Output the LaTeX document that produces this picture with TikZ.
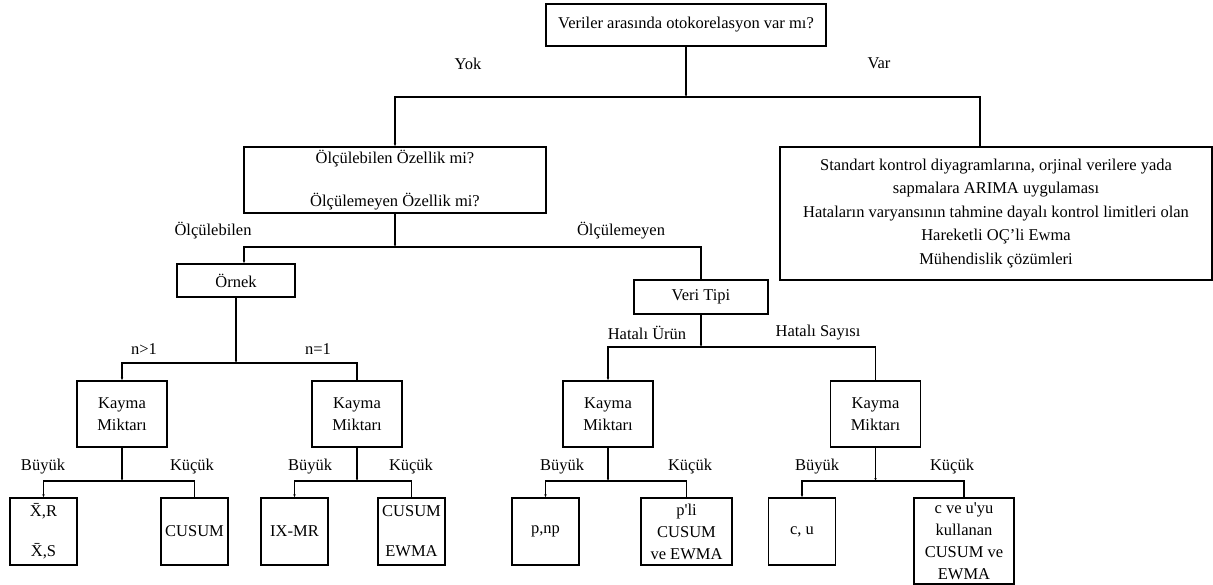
\documentclass[tikz,border=0pt]{standalone}
\usepackage{fontspec}
\setmainfont{Liberation Serif}
\usetikzlibrary{arrows.meta}

\tikzset{
  box/.style={draw, line width=1.1pt, align=center, inner sep=0pt,
    font=\fontsize{16.5}{22}\selectfont},
  leaf/.style={box, minimum width=67pt, minimum height=67pt},
  kayma/.style={box, minimum width=90pt, minimum height=66pt},
  lbl/.style={font=\fontsize{16.5}{22}\selectfont},
  link/.style={line width=1.1pt},
  tip/.style={link, -{Latex[length=3pt,width=2.6pt]}},
}

\begin{document}
\begin{tikzpicture}[x=1pt, y=-1pt]
\useasboundingbox (0,0) rectangle (1213,585);

% Top question
\node[box, minimum width=280pt, minimum height=42pt] at (686,25) (q) {Veriler arasında otokorelasyon var mı?};
\node[lbl] at (468,64) (yok) {Yok};
\node[lbl] at (879,63) (varl) {Var};
\coordinate (j0) at (686,97);

% Second level
\node[box, minimum width=302pt, minimum height=66pt] at (395,180) (olc) {Ölçülebilen Özellik mi?\\[21pt]Ölçülemeyen Özellik mi?};
\node[box, minimum width=432pt, minimum height=133pt, font=\fontsize{16.5}{23.5}\selectfont] at (996,213.5) (var) {Standart kontrol diyagramlarına, orjinal verilere yada\\sapmalara ARIMA uygulaması\\Hataların varyansının tahmine dayalı kontrol limitleri olan\\Hareketli OÇ’li Ewma\\Mühendislik çözümleri};

\draw[tip] (q) -- (j0);
\draw[tip] (j0) -| (olc);
\draw[link] (j0) -| ([xshift=-16pt]var.north);

% Olculebilen / Olculemeyen
\node[lbl] at (213,231) (olcl) {Ölçülebilen};
\node[lbl] at (621,231) (olcm) {Ölçülemeyen};
\coordinate (j1) at (395,247);
\node[box, minimum width=118pt, minimum height=33pt] at (236,280.5) (ornek) {Örnek};
\node[box, minimum width=134pt, minimum height=34pt] at (701,297) (veri) {Veri Tipi};

\draw[tip] (olc) -- (j1);
\draw[tip] (j1) -| ([xshift=8pt]ornek.north);
\draw[link] (j1) -| (veri);

% Ornek branch
\node[lbl] at (144,349) (nbig) {n>1};
\node[lbl] at (318,349) (none) {n=1};
\coordinate (j2) at (236,363);
\node[kayma] at (122,414) (k1) {Kayma\\Miktarı};
\node[kayma] at (357,414) (k2) {Kayma\\Miktarı};

\draw[tip] (ornek) -- (j2);
\draw[tip] (j2) -| (k1);
\draw[link] (j2) -| (k2);

% Veri tipi branch
\node[lbl] at (647,333) (hurun) {Hatalı Ürün};
\node[lbl] at (818,333) (hsayi) {Hatalı Sayısı};
\coordinate (j3) at (701,347);
\node[kayma] at (608,414) (k3) {Kayma\\Miktarı};
\node[kayma] at (875.5,414) (k4) {Kayma\\Miktarı};

\draw[tip] (veri) -- (j3);
\draw[tip] (j3) -| (k3);
\draw[link] (j3) -| (k4);

% Buyuk / Kucuk labels
\node[lbl] at (43,467) (bu1) {Büyük};
\node[lbl] at (192,467) (ku1) {Küçük};
\node[lbl] at (310,467) (bu2) {Büyük};
\node[lbl] at (411,467) (ku2) {Küçük};
\node[lbl] at (562,467) (bu3) {Büyük};
\node[lbl] at (690,467) (ku3) {Küçük};
\node[lbl] at (817,467) (bu4) {Büyük};
\node[lbl] at (952,467) (ku4) {Küçük};

% Leaves
\node[leaf] at (43.5,531.5) (l1) {\={X},R\\[18pt]\={X},S};
\node[leaf] at (194.5,531.5) (l2) {CUSUM};
\node[leaf] at (294.5,531.5) (l3) {IX-MR};
\node[leaf] at (411.5,531.5) (l4) {CUSUM\\[18pt]EWMA};
\node[leaf] at (545.5,531.5) (l5) {p,np};
\node[leaf, minimum width=91pt] at (686.5,531.5) (l6) {p\textquotesingle li\\CUSUM\\ve EWMA};
\node[leaf] at (802,531.5) (l7) {c, u};
\node[leaf, minimum width=100pt, minimum height=86pt] at (964,541) (l8) {c ve u\textquotesingle yu\\kullanan\\CUSUM ve\\EWMA};

\coordinate (b1) at (122,481);
\coordinate (b2) at (357,481);
\coordinate (b3) at (608,481);
\coordinate (b4) at (875.5,481);

\draw[tip] (k1) -- (b1);
\draw[tip] (b1) -| (l1);
\draw[link] (b1) -| (l2);
\draw[tip] (k2) -- (b2);
\draw[tip] (b2) -| (l3);
\draw[link] (b2) -| (l4);
\draw[tip] (k3) -- (b3);
\draw[tip] (b3) -| (l5);
\draw[link] (b3) -| (l6);
\draw[tip] (k4) -- (b4);
\draw[tip] (b4) -| (l7);
\draw[link] (b4) -| (l8);
\end{tikzpicture}
\end{document}
